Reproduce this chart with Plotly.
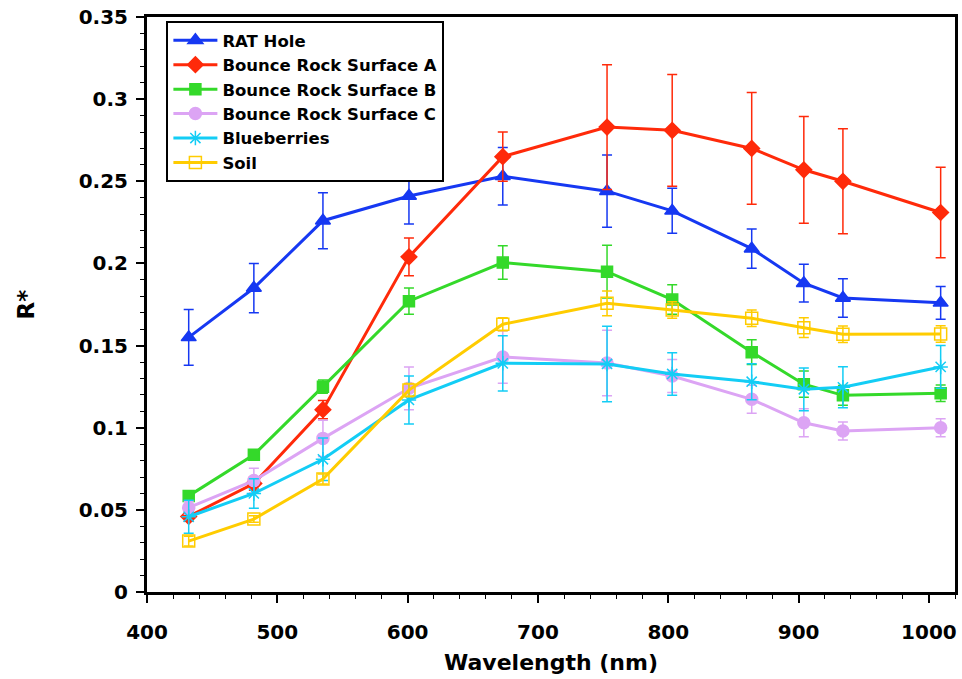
import plotly.graph_objects as go

# Pancam filter wavelengths (nm)
wavelength = [432, 482, 535, 601, 673, 753, 803, 864, 904, 934, 1009]

# Relative reflectance R* for each target, with +/- uncertainty
rat_hole = [0.155, 0.185, 0.226, 0.241, 0.253, 0.244, 0.232, 0.209, 0.188, 0.179, 0.176]
rat_hole_err = [0.017, 0.015, 0.017, 0.017, 0.0175, 0.022, 0.0137, 0.012, 0.0115, 0.0117, 0.010]

bounce_a = [0.046, 0.066, 0.111, 0.204, 0.265, 0.283, 0.281, 0.270, 0.257, 0.250, 0.231]
bounce_a_err = [0.003, 0.004, 0.0055, 0.0115, 0.015, 0.038, 0.034, 0.034, 0.0325, 0.032, 0.0275]

bounce_b = [0.0585, 0.0835, 0.125, 0.177, 0.2005, 0.195, 0.178, 0.146, 0.1265, 0.1197, 0.121]
bounce_b_err = [0.002, 0.002, 0.004, 0.008, 0.0102, 0.016, 0.009, 0.0075, 0.008, 0.006, 0.005]

bounce_c = [0.0513, 0.0678, 0.0935, 0.124, 0.143, 0.1394, 0.1315, 0.1173, 0.103, 0.098, 0.100]
bounce_c_err = [0.004, 0.0075, 0.011, 0.013, 0.016, 0.020, 0.010, 0.0085, 0.0085, 0.0055, 0.0055]

blueberries = [0.0458, 0.060, 0.0808, 0.1169, 0.1392, 0.1388, 0.1327, 0.128, 0.1234, 0.1246, 0.137]
blueberries_err = [0.010, 0.009, 0.013, 0.0146, 0.0168, 0.023, 0.013, 0.011, 0.013, 0.0125, 0.013]

soil = [0.031, 0.0444, 0.0688, 0.1229, 0.163, 0.1757, 0.1716, 0.1666, 0.1609, 0.1569, 0.157]
soil_err = [0.003, 0.002, 0.003, 0.004, 0.004, 0.0075, 0.005, 0.005, 0.006, 0.005, 0.005]

series = [
    ("RAT Hole", rat_hole, rat_hole_err, "#1638f2", "triangle-up", 13),
    ("Bounce Rock Surface A", bounce_a, bounce_a_err, "#ff2a0a", "diamond", 12),
    ("Bounce Rock Surface B", bounce_b, bounce_b_err, "#34d92a", "square", 11),
    ("Bounce Rock Surface C", bounce_c, bounce_c_err, "#dca4f4", "circle", 12),
    ("Blueberries", blueberries, blueberries_err, "#13cdf5", "asterisk-open", 12),
    ("Soil", soil, soil_err, "#ffcc00", "square-open", 12),
]

fig = go.Figure()
for name, vals, errs, color, symbol, size in series:
    fig.add_trace(go.Scatter(
        x=wavelength, y=vals, name=name, mode="lines+markers",
        line=dict(color=color, width=3),
        marker=dict(symbol=symbol, size=size, color=color,
                    line=dict(color=color, width=1.5)),
        error_y=dict(type="data", array=errs, visible=True,
                     color=color, thickness=1.5, width=5),
    ))

font_family = "DejaVu Sans"

fig.update_layout(
    width=962, height=679,
    margin=dict(l=147, r=4, t=17, b=87),
    paper_bgcolor="white", plot_bgcolor="white",
    font=dict(family=font_family, color="black"),
    showlegend=True,
    legend=dict(
        x=0.024, y=0.993, xanchor="left", yanchor="top",
        bgcolor="white", bordercolor="black", borderwidth=2,
        font=dict(family=font_family, size=16.5, color="black", weight="bold"),
        itemwidth=44, tracegroupgap=0,
    ),
)

fig.update_xaxes(
    range=[400, 1020], dtick=100, tick0=400,
    showgrid=False, zeroline=False,
    showline=True, linecolor="black", linewidth=3, mirror=True,
    ticks="outside", ticklen=8, tickwidth=1.5, tickcolor="black",
    minor=dict(dtick=20, ticks="outside", ticklen=4, tickwidth=1, tickcolor="black"),
    tickfont=dict(family=font_family, size=20, weight="bold"),
    ticklabelstandoff=12,
    title=dict(text="Wavelength (nm)", standoff=12,
               font=dict(family=font_family, size=22, weight="bold")),
)
fig.update_yaxes(
    range=[0, 0.35], dtick=0.05, tick0=0,
    showgrid=False, zeroline=False,
    showline=True, linecolor="black", linewidth=3, mirror=True,
    ticks="outside", ticklen=8, tickwidth=1.5, tickcolor="black",
    minor=dict(dtick=0.01, ticks="outside", ticklen=4, tickwidth=1, tickcolor="black"),
    tickfont=dict(family=font_family, size=20, weight="bold"),
    ticklabelstandoff=4,
    title=dict(text="R*", standoff=38,
               font=dict(family=font_family, size=23, weight="bold")),
)

fig.write_html("out.html")
